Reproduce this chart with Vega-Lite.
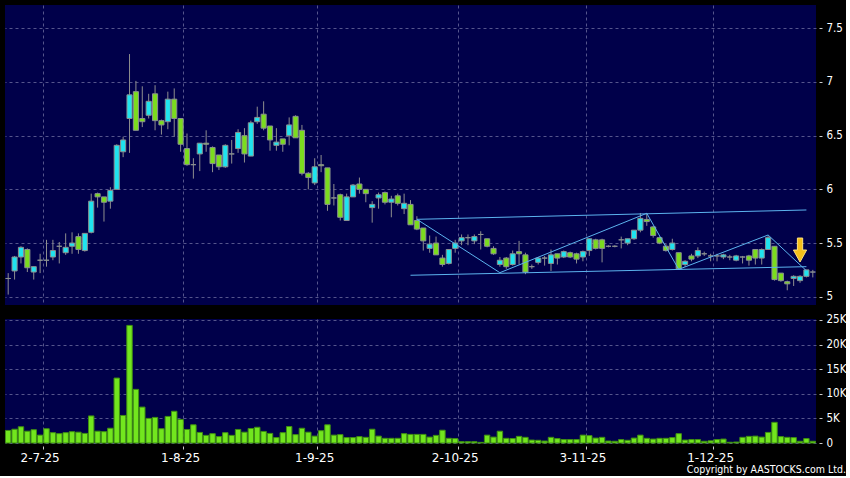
{
  "$schema": "https://vega.github.io/schema/vega-lite/v6.json",
  "background": "#000000",
  "padding": {"left": 4, "top": 5, "right": 0, "bottom": 0},
  "spacing": 8,
  "title": {"text": "Copyright by AASTOCKS.com Ltd.", "orient": "bottom", "anchor": "end", "frame": "bounds", "color": "#ffffff", "fontSize": 10.5, "fontWeight": "normal", "font": "DejaVu Sans Condensed", "offset": 2},
  "datasets": {
    "ohlc": [
      {"d":"2025-06-24","o":5.17,"h":5.22,"l":5.02,"c":5.17,"v":2550},
      {"d":"2025-06-25","o":5.24,"h":5.38,"l":5.16,"c":5.37,"v":2800},
      {"d":"2025-06-26","o":5.37,"h":5.47,"l":5.31,"c":5.46,"v":3300},
      {"d":"2025-06-27","o":5.44,"h":5.45,"l":5.23,"c":5.27,"v":2400},
      {"d":"2025-06-30","o":5.23,"h":5.28,"l":5.16,"c":5.28,"v":2700},
      {"d":"2025-07-02","o":5.34,"h":5.40,"l":5.22,"c":5.34,"v":1600},
      {"d":"2025-07-03","o":5.34,"h":5.53,"l":5.28,"c":5.34,"v":2900},
      {"d":"2025-07-04","o":5.37,"h":5.53,"l":5.34,"c":5.43,"v":2100},
      {"d":"2025-07-07","o":5.47,"h":5.51,"l":5.31,"c":5.47,"v":1900},
      {"d":"2025-07-08","o":5.41,"h":5.59,"l":5.39,"c":5.46,"v":2100},
      {"d":"2025-07-09","o":5.47,"h":5.60,"l":5.40,"c":5.50,"v":2300},
      {"d":"2025-07-10","o":5.56,"h":5.59,"l":5.40,"c":5.44,"v":2200},
      {"d":"2025-07-11","o":5.43,"h":5.59,"l":5.42,"c":5.59,"v":1950},
      {"d":"2025-07-14","o":5.60,"h":5.96,"l":5.59,"c":5.89,"v":5500},
      {"d":"2025-07-15","o":5.96,"h":5.97,"l":5.83,"c":5.93,"v":2400},
      {"d":"2025-07-16","o":5.93,"h":5.93,"l":5.70,"c":5.88,"v":2300},
      {"d":"2025-07-17","o":5.89,"h":6.02,"l":5.82,"c":5.99,"v":3000},
      {"d":"2025-07-18","o":6.00,"h":6.42,"l":6.00,"c":6.41,"v":13200},
      {"d":"2025-07-21","o":6.35,"h":6.49,"l":6.30,"c":6.46,"v":5600},
      {"d":"2025-07-22","o":6.66,"h":7.26,"l":6.34,"c":6.88,"v":23900},
      {"d":"2025-07-23","o":6.91,"h":7.01,"l":6.55,"c":6.55,"v":10900},
      {"d":"2025-07-24","o":6.66,"h":6.96,"l":6.58,"c":6.63,"v":7300},
      {"d":"2025-07-25","o":6.69,"h":6.89,"l":6.66,"c":6.82,"v":5000},
      {"d":"2025-07-28","o":6.89,"h":6.97,"l":6.55,"c":6.64,"v":5200},
      {"d":"2025-07-29","o":6.64,"h":6.65,"l":6.51,"c":6.60,"v":2900},
      {"d":"2025-07-30","o":6.63,"h":6.91,"l":6.56,"c":6.84,"v":5400},
      {"d":"2025-07-31","o":6.84,"h":6.94,"l":6.49,"c":6.66,"v":6450},
      {"d":"2025-08-01","o":6.66,"h":6.66,"l":6.35,"c":6.42,"v":4800},
      {"d":"2025-08-04","o":6.38,"h":6.52,"l":6.22,"c":6.23,"v":2750},
      {"d":"2025-08-05","o":6.23,"h":6.29,"l":6.10,"c":6.23,"v":3700},
      {"d":"2025-08-06","o":6.33,"h":6.43,"l":6.17,"c":6.43,"v":2150},
      {"d":"2025-08-07","o":6.43,"h":6.55,"l":6.35,"c":6.42,"v":1550},
      {"d":"2025-08-08","o":6.39,"h":6.40,"l":6.16,"c":6.24,"v":1900},
      {"d":"2025-08-11","o":6.32,"h":6.32,"l":6.18,"c":6.21,"v":1300},
      {"d":"2025-08-12","o":6.21,"h":6.42,"l":6.20,"c":6.41,"v":2100},
      {"d":"2025-08-13","o":6.33,"h":6.46,"l":6.24,"c":6.33,"v":1550},
      {"d":"2025-08-14","o":6.38,"h":6.56,"l":6.34,"c":6.53,"v":2750},
      {"d":"2025-08-15","o":6.50,"h":6.57,"l":6.25,"c":6.33,"v":2200},
      {"d":"2025-08-18","o":6.31,"h":6.64,"l":6.31,"c":6.62,"v":2950},
      {"d":"2025-08-19","o":6.63,"h":6.77,"l":6.61,"c":6.67,"v":3200},
      {"d":"2025-08-20","o":6.70,"h":6.82,"l":6.55,"c":6.57,"v":2350},
      {"d":"2025-08-21","o":6.59,"h":6.59,"l":6.36,"c":6.46,"v":1950},
      {"d":"2025-08-22","o":6.41,"h":6.57,"l":6.36,"c":6.44,"v":1100},
      {"d":"2025-08-25","o":6.47,"h":6.47,"l":6.35,"c":6.42,"v":2100},
      {"d":"2025-08-26","o":6.50,"h":6.67,"l":6.41,"c":6.60,"v":3350},
      {"d":"2025-08-27","o":6.68,"h":6.69,"l":6.48,"c":6.48,"v":1700},
      {"d":"2025-08-28","o":6.55,"h":6.60,"l":6.13,"c":6.15,"v":3000},
      {"d":"2025-08-29","o":6.15,"h":6.16,"l":6.00,"c":6.11,"v":2200},
      {"d":"2025-09-01","o":6.06,"h":6.29,"l":6.04,"c":6.21,"v":1400},
      {"d":"2025-09-02","o":6.23,"h":6.32,"l":6.16,"c":6.22,"v":2500},
      {"d":"2025-09-03","o":6.20,"h":6.20,"l":5.80,"c":5.86,"v":3700},
      {"d":"2025-09-04","o":5.92,"h":6.05,"l":5.85,"c":5.92,"v":1600},
      {"d":"2025-09-05","o":5.95,"h":5.96,"l":5.71,"c":5.74,"v":1700},
      {"d":"2025-09-08","o":5.71,"h":5.96,"l":5.71,"c":5.93,"v":1100},
      {"d":"2025-09-09","o":5.93,"h":6.05,"l":5.93,"c":6.04,"v":1100},
      {"d":"2025-09-10","o":6.05,"h":6.11,"l":5.96,"c":6.00,"v":1300},
      {"d":"2025-09-11","o":6.00,"h":6.00,"l":5.88,"c":5.96,"v":1150},
      {"d":"2025-09-12","o":5.83,"h":5.89,"l":5.69,"c":5.86,"v":2800},
      {"d":"2025-09-15","o":5.92,"h":5.97,"l":5.82,"c":5.95,"v":1400},
      {"d":"2025-09-16","o":5.97,"h":5.98,"l":5.86,"c":5.88,"v":950},
      {"d":"2025-09-17","o":5.88,"h":5.94,"l":5.74,"c":5.91,"v":950},
      {"d":"2025-09-18","o":5.94,"h":5.96,"l":5.85,"c":5.87,"v":950},
      {"d":"2025-09-19","o":5.82,"h":5.96,"l":5.77,"c":5.87,"v":1900},
      {"d":"2025-09-22","o":5.86,"h":5.90,"l":5.67,"c":5.67,"v":1750},
      {"d":"2025-09-23","o":5.71,"h":5.75,"l":5.62,"c":5.63,"v":1750},
      {"d":"2025-09-24","o":5.64,"h":5.64,"l":5.43,"c":5.52,"v":1750},
      {"d":"2025-09-25","o":5.45,"h":5.57,"l":5.41,"c":5.49,"v":1200},
      {"d":"2025-09-26","o":5.50,"h":5.56,"l":5.39,"c":5.39,"v":1550},
      {"d":"2025-09-29","o":5.36,"h":5.39,"l":5.28,"c":5.30,"v":2600},
      {"d":"2025-09-30","o":5.31,"h":5.44,"l":5.30,"c":5.44,"v":950},
      {"d":"2025-10-02","o":5.45,"h":5.53,"l":5.41,"c":5.50,"v":900},
      {"d":"2025-10-03","o":5.52,"h":5.58,"l":5.48,"c":5.55,"v":270},
      {"d":"2025-10-06","o":5.55,"h":5.58,"l":5.48,"c":5.55,"v":270},
      {"d":"2025-10-08","o":5.52,"h":5.58,"l":5.49,"c":5.56,"v":270},
      {"d":"2025-10-09","o":5.58,"h":5.61,"l":5.44,"c":5.58,"v":130},
      {"d":"2025-10-10","o":5.54,"h":5.54,"l":5.46,"c":5.47,"v":1600},
      {"d":"2025-10-13","o":5.45,"h":5.47,"l":5.39,"c":5.40,"v":1200},
      {"d":"2025-10-14","o":5.30,"h":5.37,"l":5.28,"c":5.34,"v":2400},
      {"d":"2025-10-15","o":5.36,"h":5.37,"l":5.26,"c":5.28,"v":950},
      {"d":"2025-10-16","o":5.30,"h":5.43,"l":5.29,"c":5.40,"v":900},
      {"d":"2025-10-17","o":5.42,"h":5.52,"l":5.30,"c":5.40,"v":1350},
      {"d":"2025-10-20","o":5.39,"h":5.41,"l":5.21,"c":5.23,"v":1150},
      {"d":"2025-10-21","o":5.28,"h":5.30,"l":5.26,"c":5.28,"v":600},
      {"d":"2025-10-22","o":5.32,"h":5.37,"l":5.30,"c":5.36,"v":550},
      {"d":"2025-10-23","o":5.36,"h":5.38,"l":5.29,"c":5.36,"v":400},
      {"d":"2025-10-24","o":5.31,"h":5.44,"l":5.24,"c":5.39,"v":1150},
      {"d":"2025-10-27","o":5.40,"h":5.40,"l":5.30,"c":5.36,"v":900},
      {"d":"2025-10-28","o":5.37,"h":5.43,"l":5.36,"c":5.42,"v":700},
      {"d":"2025-10-30","o":5.41,"h":5.42,"l":5.36,"c":5.37,"v":700},
      {"d":"2025-10-31","o":5.40,"h":5.41,"l":5.31,"c":5.35,"v":700},
      {"d":"2025-11-03","o":5.37,"h":5.43,"l":5.33,"c":5.42,"v":1600},
      {"d":"2025-11-04","o":5.43,"h":5.54,"l":5.38,"c":5.54,"v":1500},
      {"d":"2025-11-05","o":5.53,"h":5.54,"l":5.44,"c":5.45,"v":1000},
      {"d":"2025-11-06","o":5.53,"h":5.54,"l":5.32,"c":5.45,"v":1150},
      {"d":"2025-11-07","o":5.47,"h":5.48,"l":5.46,"c":5.47,"v":400},
      {"d":"2025-11-10","o":5.47,"h":5.48,"l":5.46,"c":5.47,"v":350},
      {"d":"2025-11-11","o":5.53,"h":5.56,"l":5.45,"c":5.53,"v":700},
      {"d":"2025-11-12","o":5.50,"h":5.54,"l":5.48,"c":5.54,"v":550},
      {"d":"2025-11-13","o":5.54,"h":5.62,"l":5.53,"c":5.62,"v":1000},
      {"d":"2025-11-14","o":5.62,"h":5.78,"l":5.60,"c":5.73,"v":1600},
      {"d":"2025-11-17","o":5.72,"h":5.78,"l":5.66,"c":5.70,"v":950},
      {"d":"2025-11-18","o":5.65,"h":5.66,"l":5.55,"c":5.57,"v":800},
      {"d":"2025-11-19","o":5.55,"h":5.56,"l":5.49,"c":5.50,"v":950},
      {"d":"2025-11-20","o":5.47,"h":5.49,"l":5.42,"c":5.43,"v":950},
      {"d":"2025-11-21","o":5.44,"h":5.54,"l":5.43,"c":5.50,"v":1100},
      {"d":"2025-11-24","o":5.41,"h":5.41,"l":5.25,"c":5.26,"v":1900},
      {"d":"2025-11-25","o":5.30,"h":5.34,"l":5.28,"c":5.33,"v":600},
      {"d":"2025-11-26","o":5.38,"h":5.40,"l":5.33,"c":5.35,"v":700},
      {"d":"2025-11-27","o":5.38,"h":5.46,"l":5.36,"c":5.43,"v":700},
      {"d":"2025-11-28","o":5.40,"h":5.42,"l":5.38,"c":5.40,"v":350},
      {"d":"2025-12-01","o":5.38,"h":5.40,"l":5.33,"c":5.38,"v":450},
      {"d":"2025-12-02","o":5.38,"h":5.40,"l":5.33,"c":5.38,"v":700},
      {"d":"2025-12-03","o":5.37,"h":5.40,"l":5.35,"c":5.39,"v":800},
      {"d":"2025-12-04","o":5.37,"h":5.39,"l":5.34,"c":5.37,"v":150},
      {"d":"2025-12-05","o":5.34,"h":5.39,"l":5.33,"c":5.38,"v":200},
      {"d":"2025-12-08","o":5.37,"h":5.38,"l":5.31,"c":5.37,"v":1150},
      {"d":"2025-12-09","o":5.38,"h":5.39,"l":5.29,"c":5.34,"v":1350},
      {"d":"2025-12-10","o":5.44,"h":5.44,"l":5.30,"c":5.36,"v":1400},
      {"d":"2025-12-11","o":5.36,"h":5.45,"l":5.30,"c":5.44,"v":1200},
      {"d":"2025-12-12","o":5.44,"h":5.57,"l":5.44,"c":5.55,"v":2150},
      {"d":"2025-12-15","o":5.47,"h":5.47,"l":5.15,"c":5.16,"v":4200},
      {"d":"2025-12-16","o":5.22,"h":5.22,"l":5.14,"c":5.15,"v":1300},
      {"d":"2025-12-17","o":5.14,"h":5.15,"l":5.06,"c":5.12,"v":1150},
      {"d":"2025-12-18","o":5.17,"h":5.20,"l":5.10,"c":5.19,"v":1100},
      {"d":"2025-12-19","o":5.15,"h":5.20,"l":5.13,"c":5.19,"v":350},
      {"d":"2025-12-22","o":5.19,"h":5.25,"l":5.18,"c":5.25,"v":900},
      {"d":"2025-12-23","o":5.23,"h":5.25,"l":5.18,"c":5.23,"v":350}
    ],
    "lines": [
      {"seg":"upper","d":"2025-09-23","p":5.721},
      {"seg":"upper","d":"2025-12-22","p":5.808},
      {"seg":"lower","d":"2025-09-22","p":5.200},
      {"seg":"lower","d":"2025-12-22","p":5.280},
      {"seg":"zig","d":"2025-09-23","p":5.721},
      {"seg":"zig","d":"2025-10-14","p":5.224},
      {"seg":"zig","d":"2025-11-17","p":5.777},
      {"seg":"zig","d":"2025-11-24","p":5.255},
      {"seg":"zig","d":"2025-12-12","p":5.575},
      {"seg":"zig","d":"2025-12-22","p":5.242}
    ],
    "arrow": [
      {"d":"2025-12-19","p":5.435}
    ]
  },
  "vconcat": [
    {
      "width": 811,
      "height": 300,
      "layer": [
        {
          "data": {"name": "ohlc"},
          "mark": {"type": "rule", "color": "#8e8e8e", "strokeWidth": 1},
          "encoding": {
            "x": {"field": "d", "type": "ordinal", "scale": {"type": "band", "paddingInner": 0, "paddingOuter": 0},
                  "axis": {"values": ["2025-07-02","2025-08-01","2025-09-01","2025-10-02","2025-11-03","2025-12-01"], "labels": false, "ticks": false, "domain": false, "grid": true, "bandPosition": 1, "title": null, "minExtent": 0, "maxExtent": 0}},
            "y": {"field": "l", "type": "quantitative", "scale": {"domain": [4.923, 7.717], "zero": false, "nice": false},
                  "axis": {"orient": "right", "values": [5, 5.25, 5.5, 5.75, 6, 6.25, 6.5, 6.75, 7, 7.25, 7.5], "format": "~g", "title": null, "grid": true, "offset": 3, "tickSize": 3, "labelPadding": 4, "labelFont": "DejaVu Sans Condensed", "labelFontSize": 11.5}},
            "y2": {"field": "h"}
          }
        },
        {
          "data": {"name": "ohlc"},
          "mark": {"type": "bar", "width": {"band": 0.8}, "stroke": "#8a9090", "strokeWidth": 1},
          "encoding": {
            "x": {"field": "d", "type": "ordinal"},
            "y": {"field": "o", "type": "quantitative"},
            "y2": {"field": "c"},
            "fill": {"condition": [{"test": "datum.c > datum.o", "value": "#1fe3ef"}, {"test": "datum.c < datum.o", "value": "#7bdc1e"}], "value": "#9a9a9a"}
          }
        },
        {
          "data": {"name": "lines"},
          "mark": {"type": "line", "color": "#5cb3ee", "strokeWidth": 1},
          "encoding": {
            "x": {"field": "d", "type": "ordinal"},
            "y": {"field": "p", "type": "quantitative"},
            "detail": {"field": "seg"}
          }
        },
        {
          "data": {"name": "arrow"},
          "mark": {"type": "point", "shape": "M-0.22,-1L0.22,-1L0.22,0L0.55,0L0,1L-0.55,0L-0.22,0Z", "size": 576, "filled": true, "fill": "#f5c01a", "stroke": "#ffe27a", "strokeWidth": 1, "opacity": 1},
          "encoding": {
            "x": {"field": "d", "type": "ordinal"},
            "y": {"field": "p", "type": "quantitative"}
          }
        }
      ]
    },
    {
      "width": 811,
      "height": 124,
      "data": {"name": "ohlc"},
      "mark": {"type": "bar", "width": {"band": 0.85}, "fill": "#72e61e", "stroke": "#3f8f12", "strokeWidth": 1},
      "encoding": {
        "x": {"field": "d", "type": "ordinal", "scale": {"type": "band", "paddingInner": 0, "paddingOuter": 0},
              "axis": {"values": ["2025-07-02","2025-08-01","2025-09-01","2025-10-02","2025-11-03","2025-12-01"], "labelExpr": "utcFormat(toDate(datum.value), '%-d-%-m-%y')", "labelAngle": 0, "ticks": true, "tickSize": 3, "offset": 3, "labelPadding": 3, "domain": false, "grid": true, "bandPosition": 1, "title": null, "labelFont": "DejaVu Sans", "labelFontSize": 12}},
        "y": {"field": "v", "type": "quantitative", "scale": {"domain": [0, 25200], "nice": false},
              "axis": {"orient": "right", "values": [0, 5000, 10000, 15000, 20000, 25000], "labelExpr": "datum.value == 0 ? '0' : (datum.value / 1000) + 'K'", "title": null, "grid": true, "offset": 3, "tickSize": 3, "labelPadding": 4, "labelFont": "DejaVu Sans Condensed", "labelFontSize": 11.5}}
      }
    }
  ],
  "config": {
    "view": {"fill": "#00004a", "stroke": null},
    "axis": {"labelColor": "#ffffff", "gridColor": "#55558c", "gridDash": [3, 3], "gridWidth": 1, "tickColor": "#cccccc", "domain": false}
  }
}
